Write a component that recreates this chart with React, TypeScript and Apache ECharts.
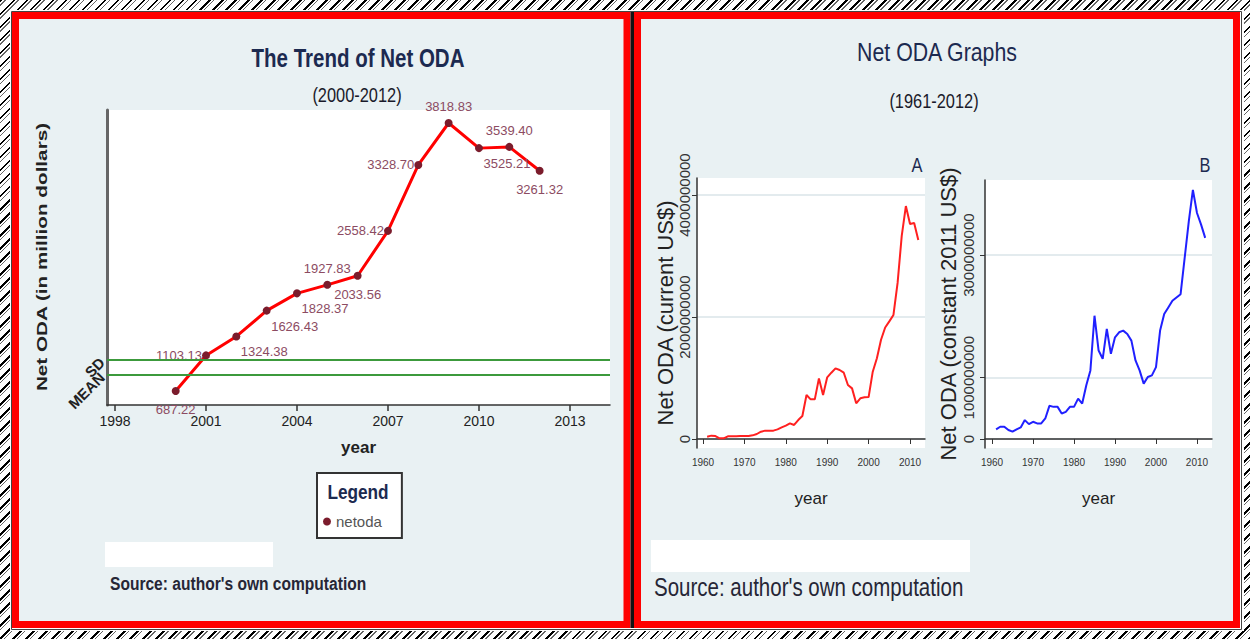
import React, { useEffect, useRef } from "react";
import * as echarts from "echarts";

// ---------- data ----------
const TREND_YEARS = [2000, 2001, 2002, 2003, 2004, 2005, 2006, 2007, 2008, 2009, 2010, 2011, 2012];
const NET_ODA_MUSD = [687.22, 1103.13, 1324.38, 1626.43, 1828.37, 1927.83, 2033.56, 2558.42, 3328.7, 3818.83, 3525.21, 3539.4, 3261.32];
const TREND_LABEL_SIDE = ["bottom", "left", "br", "br", "br", "top", "bottom", "left", "left", "top", "br", "top", "bottom"];
const REF_NAMES = ["MEAN", "SD"];
const REF_VALUES = [875, 1050];
const TREND_X_TICKS = [1998, 2001, 2004, 2007, 2010, 2013];

const LONG_YEARS = [
  1961, 1962, 1963, 1964, 1965, 1966, 1967, 1968, 1969, 1970,
  1971, 1972, 1973, 1974, 1975, 1976, 1977, 1978, 1979, 1980,
  1981, 1982, 1983, 1984, 1985, 1986, 1987, 1988, 1989, 1990,
  1991, 1992, 1993, 1994, 1995, 1996, 1997, 1998, 1999, 2000,
  2001, 2002, 2003, 2004, 2005, 2006, 2007, 2008, 2009, 2010,
  2011, 2012,
];
// Net ODA, current US$ (millions)
const ODA_CURRENT_MUSD = [
  38, 55, 49, 11, 11, 44, 44, 44, 49, 49,
  49, 60, 82, 120, 137, 137, 137, 158, 191, 219,
  257, 230, 311, 377, 721, 650, 650, 994, 721, 1011,
  1087, 1158, 1131, 1087, 885, 830, 585, 667, 683, 687.22,
  1103.13, 1324.38, 1626.43, 1828.37, 1927.83, 2033.56, 2558.42, 3328.7, 3818.83, 3525.21,
  3539.4, 3261.32,
];
// Net ODA, constant 2011 US$ (millions)
const ODA_CONSTANT_MUSD = [
  157, 200, 200, 146, 119, 157, 189, 308, 243, 281,
  254, 254, 335, 541, 524, 524, 416, 443, 524, 524,
  659, 578, 876, 1119, 2011, 1443, 1308, 1795, 1389, 1659,
  1741, 1768, 1714, 1605, 1281, 1119, 903, 1011, 1038, 1173,
  1768, 2038, 2146, 2254, 2308, 2362, 2957, 3551, 4065, 3686,
  3497, 3281,
];
const LONG_X_TICKS = [1960, 1970, 1980, 1990, 2000, 2010];
const A_Y_TICKS = [0, 2000, 4000];
const B_Y_TICKS = [0, 1000, 3000];

// ---------- styles ----------
const ARIAL = "'Liberation Sans', Arial, sans-serif";
const NAVY = "#1c2a50";
const PANEL_BG = "#e9f1f3";
const SQUEEZE = 0.82;
const TREND_Y_MIN = 523.6;
const TREND_Y_MAX = 3970.7;

function labelFor(side: string) {
  const base = {
    show: true,
    color: "#8c4b62",
    fontFamily: ARIAL,
    fontSize: 13,
    formatter: (p: any) => Number(p.value[1]).toFixed(2),
  };
  if (side === "left") return { ...base, position: "left", distance: 0 };
  if (side === "top") return { ...base, position: "top", distance: 6 };
  if (side === "br") return { ...base, position: "bottom", distance: 5, offset: [28, 0] };
  return { ...base, position: "bottom", distance: 8 };
}

function millionsLabel(v: number) {
  return String(Math.round(v * 1000000));
}

function plain(v: number) {
  return String(v);
}

function txt(x: number, y: number, text: string, font: string, fill: string, align = "center", extra: any = {}) {
  return {
    type: "text",
    z: 100,
    x,
    y,
    scaleX: SQUEEZE,
    ...extra,
    style: { text, font, fill, align, verticalAlign: "middle" },
  };
}

// one left-side axis per reference line so both labels are shown
function refAxis(i: number, showLine: boolean) {
  return {
    type: "value",
    gridIndex: 0,
    position: "left",
    min: TREND_Y_MIN,
    max: TREND_Y_MAX,
    axisLine: { show: showLine, lineStyle: { color: "#666", width: 3 } },
    axisTick: { show: false },
    axisLabel: {
      customValues: [REF_VALUES[i]],
      rotate: 45,
      margin: 5,
      fontFamily: ARIAL,
      fontWeight: "bold",
      fontSize: 15,
      color: "#222",
      formatter: () => REF_NAMES[i],
    },
    splitLine: { show: false },
  };
}

export default function App() {
  const ref = useRef<HTMLDivElement>(null);

  useEffect(() => {
    if (!ref.current) return;
    const chart = echarts.init(ref.current, null, { renderer: "svg" });

    const trendData = TREND_YEARS.map((y, i) => ({
      value: [y, NET_ODA_MUSD[i]],
      label: labelFor(TREND_LABEL_SIDE[i]),
    }));
    const currentData = LONG_YEARS.map((y, i) => [y, ODA_CURRENT_MUSD[i]]);
    const constantData = LONG_YEARS.map((y, i) => [y, ODA_CONSTANT_MUSD[i]]);

    const rightX = (gridIndex: number, min: number, max: number) => ({
      type: "value",
      gridIndex,
      min,
      max,
      name: "year",
      nameLocation: "middle",
      nameGap: 42,
      nameTextStyle: { fontFamily: ARIAL, fontSize: 17, color: "#222" },
      axisLine: { show: true, lineStyle: { color: "#333", width: 1.5 } },
      axisTick: { show: true, customValues: LONG_X_TICKS, length: 5, lineStyle: { color: "#333" } },
      axisLabel: { customValues: LONG_X_TICKS, fontFamily: ARIAL, fontSize: 10, color: "#333", margin: 9, formatter: plain },
      splitLine: { show: false },
    });

    const rightY = (gridIndex: number, min: number, max: number, ticks: number[], name: string, gap: number, margin: number) => ({
      type: "value",
      gridIndex,
      min,
      max,
      name,
      nameLocation: "middle",
      nameGap: gap,
      nameTextStyle: { fontFamily: ARIAL, fontSize: 22, color: "#222" },
      axisLine: { show: true, lineStyle: { color: "#333", width: 1.5 } },
      axisTick: { show: true, customValues: ticks, length: 5, lineStyle: { color: "#333" } },
      axisLabel: {
        customValues: ticks,
        rotate: 90,
        fontFamily: ARIAL,
        fontSize: 15,
        color: "#333",
        margin,
        formatter: millionsLabel,
      },
      splitLine: { show: true, customValues: ticks, lineStyle: { color: "#e3ebee", width: 2 } },
    });

    const option: any = {
      animation: false,
      backgroundColor: "transparent",
      graphic: {
        elements: [
          { type: "rect", z: -10, shape: { x: 10, y: 10, width: 1234, height: 621 }, style: { fill: "#fff" } },
          { type: "rect", z: -9, shape: { x: 11.5, y: 11.5, width: 1230, height: 618 }, style: { fill: "none", stroke: "#444", lineWidth: 1 } },
          { type: "rect", z: -8, shape: { x: 15.5, y: 15.5, width: 611.5, height: 609 }, style: { fill: PANEL_BG, stroke: "#ff0000", lineWidth: 7 } },
          { type: "rect", z: -8, shape: { x: 637.5, y: 15.5, width: 599, height: 609 }, style: { fill: PANEL_BG, stroke: "#ff0000", lineWidth: 7 } },
          { type: "rect", z: -7, shape: { x: 630.5, y: 12, width: 3.5, height: 616 }, style: { fill: "#111" } },
          { type: "rect", z: -7, shape: { x: 105, y: 542, width: 168, height: 25 }, style: { fill: "#fff" } },
          { type: "rect", z: -7, shape: { x: 651, y: 540, width: 319, height: 32 }, style: { fill: "#fff" } },

          txt(358, 58, "The Trend of Net ODA", `bold 25px ${ARIAL}`, NAVY),
          txt(357, 95, "(2000-2012)", `20px ${ARIAL}`, "#1a1a2a"),
          {
            type: "text", z: 100, x: 42, y: 257, rotation: Math.PI / 2, scaleX: 1.38,
            style: { text: "Net ODA (in million dollars)", font: `bold 15px ${ARIAL}`, fill: "#222", align: "center", verticalAlign: "middle" },
          },
          txt(358, 492, "Legend", `bold 21px ${ARIAL}`, NAVY),
          txt(110, 583, "Source: author's own computation", `bold 19px ${ARIAL}`, "#262636", "left"),

          txt(937, 52, "Net ODA Graphs", `26px ${ARIAL}`, NAVY),
          txt(934, 101, "(1961-2012)", `20px ${ARIAL}`, "#1a1a2a"),
          txt(917, 165, "A", `20px ${ARIAL}`, NAVY),
          txt(1205, 165, "B", `20px ${ARIAL}`, NAVY),
          txt(654, 587, "Source: author's own computation", `25px ${ARIAL}`, "#262636", "left"),
        ],
      },
      legend: {
        left: 317,
        top: 473,
        orient: "vertical",
        data: ["netoda"],
        icon: "circle",
        itemWidth: 8,
        itemHeight: 8,
        padding: [41, 20, 9, 6],
        borderColor: "#333",
        borderWidth: 2,
        backgroundColor: "#fff",
        selectedMode: false,
        textStyle: { fontFamily: ARIAL, fontSize: 15, color: "#555" },
      },
      grid: [
        { left: 107, top: 110, width: 503, height: 295, show: true, backgroundColor: "#fff", borderWidth: 0 },
        { left: 697, top: 178, width: 228, height: 270, show: true, backgroundColor: "#fff", borderWidth: 0 },
        { left: 985, top: 180, width: 227, height: 268, show: true, backgroundColor: "#fff", borderWidth: 0 },
      ],
      xAxis: [
        {
          type: "value",
          gridIndex: 0,
          min: 1997.736,
          max: 2014.32,
          name: "year",
          nameLocation: "middle",
          nameGap: 34,
          nameTextStyle: { fontFamily: ARIAL, fontWeight: "bold", fontSize: 17, color: "#222" },
          axisLine: { show: true, lineStyle: { color: "#333", width: 1.5 } },
          axisTick: { show: true, customValues: TREND_X_TICKS, length: 6, lineStyle: { color: "#333", width: 1.5 } },
          axisLabel: { customValues: TREND_X_TICKS, fontFamily: ARIAL, fontSize: 14, color: "#222", margin: 9, formatter: plain },
          splitLine: { show: false },
        },
        rightX(1, 1958.55, 2013.62),
        rightX(2, 1958.29, 2013.66),
      ],
      yAxis: [
        refAxis(0, true),
        rightY(1, -147.5, 4278.7, A_Y_TICKS, "Net ODA (current US$)", 21, 5),
        rightY(2, -147, 4225, B_Y_TICKS, "Net ODA (constant 2011 US$)", 26, 9),
        refAxis(1, false),
      ],
      series: [
        {
          name: "netoda",
          type: "line",
          xAxisIndex: 0,
          yAxisIndex: 0,
          data: trendData,
          symbol: "circle",
          symbolSize: 8,
          itemStyle: { color: "#7b1c2c" },
          lineStyle: { color: "#ff0000", width: 3 },
          markLine: {
            silent: true,
            symbol: "none",
            label: { show: false },
            lineStyle: { color: "#3c9a3c", width: 2, type: "solid" },
            data: REF_VALUES.map((v) => ({ yAxis: v })),
          },
        },
        {
          name: "current",
          type: "line",
          xAxisIndex: 1,
          yAxisIndex: 1,
          data: currentData,
          showSymbol: false,
          lineStyle: { color: "#ff2020", width: 2 },
          itemStyle: { color: "#ff2020" },
        },
        {
          name: "constant",
          type: "line",
          xAxisIndex: 2,
          yAxisIndex: 2,
          data: constantData,
          showSymbol: false,
          lineStyle: { color: "#2020ff", width: 2 },
          itemStyle: { color: "#2020ff" },
        },
      ],
    };

    chart.setOption(option);
    return () => chart.dispose();
  }, []);

  return (
    <div
      style={{
        position: "fixed",
        left: 0,
        top: 0,
        width: 1250,
        height: 639,
        background:
          "repeating-linear-gradient(135deg, #000 0px, #000 2px, #fff 2px, #fff 3.5px, #666 3.5px, #666 4.5px, #fff 4.5px, #fff 9.2px)",
      }}
    >
      <div ref={ref} style={{ width: 1250, height: 639 }} />
    </div>
  );
}
